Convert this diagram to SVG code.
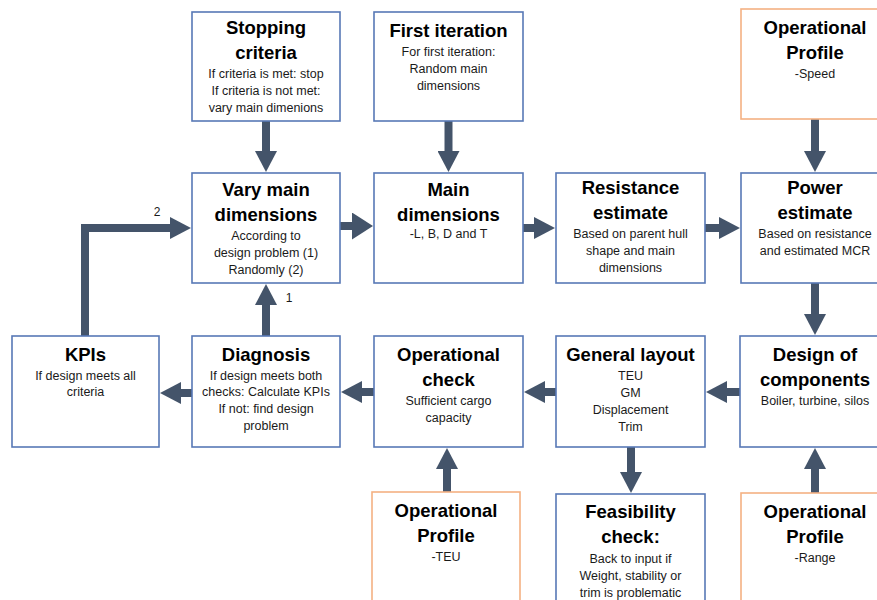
<svg xmlns="http://www.w3.org/2000/svg" width="877" height="600" viewBox="0 0 877 600">
<style>
.box{fill:#fff;stroke:#5878B6;stroke-width:1.6}
.ob{fill:#fff;stroke:#F4B183;stroke-width:1.6}
.t{font-family:"Liberation Sans",Arial,sans-serif;font-weight:bold;font-size:18.5px;fill:#000;text-anchor:middle}
.b{font-family:"Liberation Sans",Arial,sans-serif;font-size:12.5px;fill:#1a1a1a;text-anchor:middle}
.n{font-family:"Liberation Sans",Arial,sans-serif;font-size:12px;fill:#1a1a1a;text-anchor:middle}
.c{fill:none;stroke:#44546A;stroke-width:8;stroke-linejoin:miter}
</style>
<defs>
<marker id="ah" markerUnits="userSpaceOnUse" markerWidth="22" markerHeight="22" viewBox="0 0 22 22" refX="1" refY="11" orient="auto">
<path d="M0,0 L21,11 L0,22 z" fill="#44546A"/>
</marker>
<marker id="ahw" markerUnits="userSpaceOnUse" markerWidth="22" markerHeight="27" viewBox="0 0 22 27" refX="1" refY="13.5" orient="auto">
<path d="M0,0 L21,13.5 L0,27 z" fill="#44546A"/>
</marker>
</defs>
<rect width="877" height="600" fill="#fff"/>

<g id="connectors">
<path class="c" d="M266,121 V152" marker-end="url(#ah)"/>
<path class="c" d="M448.5,121 V152" marker-end="url(#ah)"/>
<path class="c" d="M815,119 V152" marker-end="url(#ah)"/>
<path class="c" d="M340,226 H353" marker-end="url(#ahw)"/>
<path class="c" d="M523,228 H535" marker-end="url(#ah)"/>
<path class="c" d="M705,228 H720" marker-end="url(#ah)"/>
<path class="c" d="M815,283 V315" marker-end="url(#ah)"/>
<path class="c" d="M740,392 H726" marker-end="url(#ah)"/>
<path class="c" d="M556,392 H544" marker-end="url(#ah)"/>
<path class="c" d="M374,392 H361" marker-end="url(#ah)"/>
<path class="c" d="M192,393 H180" marker-end="url(#ah)"/>
<path class="c" d="M266,336 V304" marker-end="url(#ah)"/>
<path class="c" d="M85,336 V228 H171" marker-end="url(#ah)"/>
<path class="c" d="M447,492 V468" marker-end="url(#ah)"/>
<path class="c" d="M631,447 V473" marker-end="url(#ah)"/>
<path class="c" d="M815,493 V468" marker-end="url(#ah)"/>
<text class="n" x="157" y="216">2</text>
<text class="n" x="289" y="302">1</text>
</g>

<g id="stopping">
<rect class="box" x="192" y="12" width="148" height="109"/>
<text class="t" x="266" y="34">Stopping</text>
<text class="t" x="266" y="59">criteria</text>
<text class="b" x="266" y="78">If criteria is met: stop</text>
<text class="b" x="266" y="95">If criteria is not met:</text>
<text class="b" x="266" y="112">vary main dimenions</text>
</g>

<g id="first">
<rect class="box" x="374" y="12" width="149" height="109"/>
<text class="t" x="448.5" y="37">First iteration</text>
<text class="b" x="448.5" y="56">For first iteration:</text>
<text class="b" x="448.5" y="73">Random main</text>
<text class="b" x="448.5" y="90">dimensions</text>
</g>

<g id="opspeed">
<rect class="ob" x="741" y="9" width="149" height="110"/>
<text class="t" x="815" y="34">Operational</text>
<text class="t" x="815" y="59">Profile</text>
<text class="b" x="815" y="78">-Speed</text>
</g>

<g id="vary">
<rect class="box" x="192" y="173" width="148" height="110"/>
<text class="t" x="266" y="196">Vary main</text>
<text class="t" x="266" y="221">dimensions</text>
<text class="b" x="266" y="240">According to</text>
<text class="b" x="266" y="257">design problem (1)</text>
<text class="b" x="266" y="274">Randomly (2)</text>
</g>

<g id="main">
<rect class="box" x="374" y="173" width="149" height="110"/>
<text class="t" x="448.5" y="196">Main</text>
<text class="t" x="448.5" y="221">dimensions</text>
<text class="b" x="448.5" y="238">-L, B, D and T</text>
</g>

<g id="resistance">
<rect class="box" x="556" y="173" width="149" height="110"/>
<text class="t" x="630.5" y="194">Resistance</text>
<text class="t" x="630.5" y="219">estimate</text>
<text class="b" x="630.5" y="238">Based on parent hull</text>
<text class="b" x="630.5" y="255">shape and main</text>
<text class="b" x="630.5" y="272">dimensions</text>
</g>

<g id="power">
<rect class="box" x="741" y="173" width="149" height="110"/>
<text class="t" x="815" y="194">Power</text>
<text class="t" x="815" y="219">estimate</text>
<text class="b" x="815" y="238">Based on resistance</text>
<text class="b" x="815" y="255">and estimated MCR</text>
</g>

<g id="kpis">
<rect class="box" x="12" y="336" width="147" height="111"/>
<text class="t" x="85.5" y="361">KPIs</text>
<text class="b" x="85.5" y="380">If design meets all</text>
<text class="b" x="85.5" y="396">criteria</text>
</g>

<g id="diagnosis">
<rect class="box" x="192" y="336" width="148" height="111"/>
<text class="t" x="266" y="361">Diagnosis</text>
<text class="b" x="266" y="380">If design meets both</text>
<text class="b" x="266" y="396">checks: Calculate KPIs</text>
<text class="b" x="266" y="413">If not: find design</text>
<text class="b" x="266" y="430">problem</text>
</g>

<g id="opcheck">
<rect class="box" x="374" y="336" width="149" height="111"/>
<text class="t" x="448.5" y="361">Operational</text>
<text class="t" x="448.5" y="386">check</text>
<text class="b" x="448.5" y="405">Sufficient cargo</text>
<text class="b" x="448.5" y="422">capacity</text>
</g>

<g id="general">
<rect class="box" x="556" y="336" width="149" height="111"/>
<text class="t" x="630.5" y="361">General layout</text>
<text class="b" x="630.5" y="380">TEU</text>
<text class="b" x="630.5" y="397">GM</text>
<text class="b" x="630.5" y="414">Displacement</text>
<text class="b" x="630.5" y="431">Trim</text>
</g>

<g id="design">
<rect class="box" x="740" y="336" width="150" height="111"/>
<text class="t" x="815" y="361">Design of</text>
<text class="t" x="815" y="386">components</text>
<text class="b" x="815" y="405">Boiler, turbine, silos</text>
</g>

<g id="opteu">
<rect class="ob" x="372" y="492" width="148" height="120"/>
<text class="t" x="446" y="517">Operational</text>
<text class="t" x="446" y="542">Profile</text>
<text class="b" x="446" y="561">-TEU</text>
</g>

<g id="feasibility">
<rect class="box" x="556" y="494" width="149" height="120"/>
<text class="t" x="630.5" y="518">Feasibility</text>
<text class="t" x="630.5" y="543">check:</text>
<text class="b" x="630.5" y="563">Back to input if</text>
<text class="b" x="630.5" y="580">Weight, stability or</text>
<text class="b" x="630.5" y="597">trim is problematic</text>
</g>

<g id="oprange">
<rect class="ob" x="741" y="493" width="149" height="120"/>
<text class="t" x="815" y="518">Operational</text>
<text class="t" x="815" y="543">Profile</text>
<text class="b" x="815" y="562">-Range</text>
</g>
</svg>
